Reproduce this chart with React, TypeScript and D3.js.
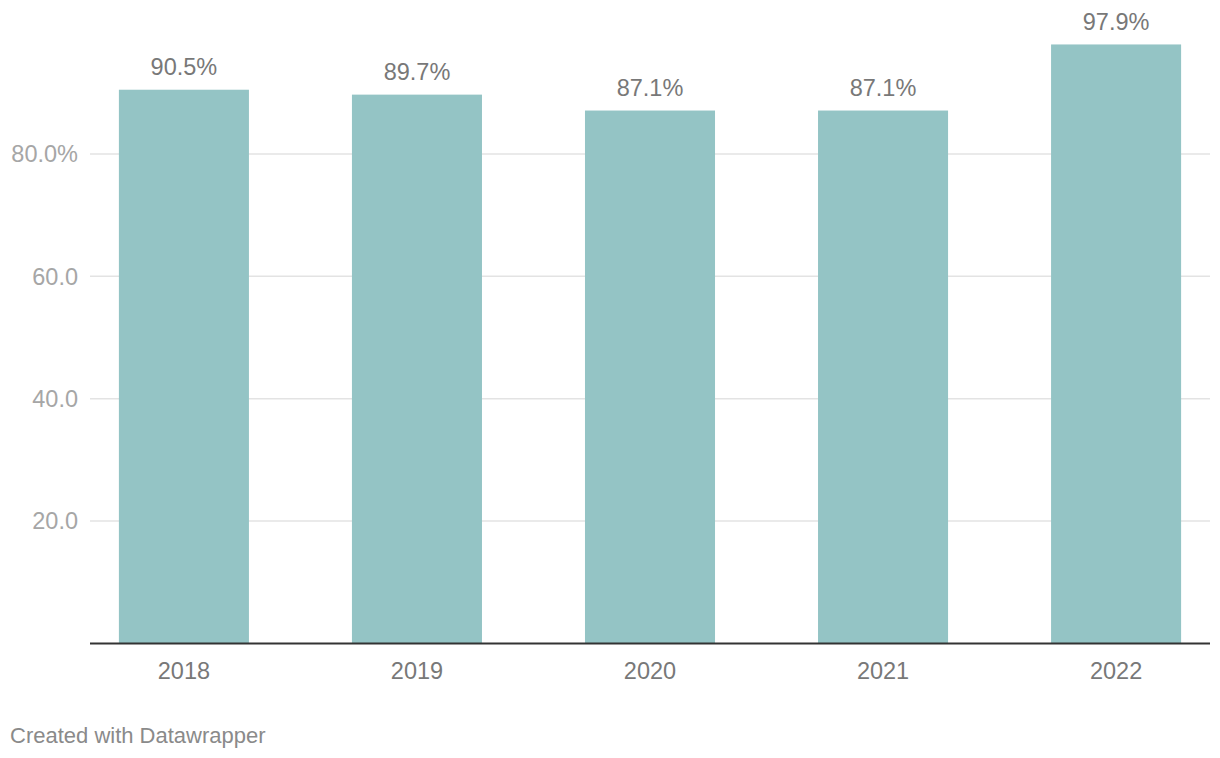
import React from "react";
import * as d3 from "d3";

const years = ["2018", "2019", "2020", "2021", "2022"];
const values = [90.5, 89.7, 87.1, 87.1, 97.9];
const yTicks = [20, 40, 60, 80];

const W = 1220;
const H = 758;
const left = 90;
const right = 1210;
const baseY = 643.5;
const FONT = "'Liberation Sans', Arial, Helvetica, sans-serif";

export default function App() {
  const x = d3
    .scaleBand<string>()
    .domain(years)
    .range([left, right])
    .paddingInner(0.442)
    .paddingOuter(0.124);
  const y = d3.scaleLinear().domain([0, 100]).range([baseY, baseY - 611.9]);

  return (
    <svg
      width={W}
      height={H}
      style={{ position: "absolute", left: 0, top: 0, background: "#fff" }}
      fontFamily={FONT}
    >
      {yTicks.map((t) => (
        <g key={t}>
          <line x1={left} x2={right} y1={y(t)} y2={y(t)} stroke="#e3e3e3" strokeWidth={1.5} />
          <text
            x={78}
            y={y(t)}
            dy="0.35em"
            textAnchor="end"
            fontSize={23.5}
            fill="#a6a6a6"
          >
            {t === 80 ? `${t.toFixed(1)}%` : t.toFixed(1)}
          </text>
        </g>
      ))}
      {values.map((v, i) => (
        <g key={years[i]}>
          <rect
            x={x(years[i])!}
            y={y(v)}
            width={x.bandwidth()}
            height={baseY - y(v)}
            fill="#94c4c5"
          />
          <text
            x={x(years[i])! + x.bandwidth() / 2}
            y={y(v) - 14.5}
            textAnchor="middle"
            fontSize={23.5}
            fill="#787878"
          >
            {v.toFixed(1)}%
          </text>
          <text
            x={x(years[i])! + x.bandwidth() / 2}
            y={678.5}
            textAnchor="middle"
            fontSize={23.5}
            fill="#787878"
          >
            {years[i]}
          </text>
        </g>
      ))}
      <line x1={left} x2={right} y1={baseY} y2={baseY} stroke="#333333" strokeWidth={2} />
      <text x={10} y={743} fontSize={22} fill="#8a8a8a">
        Created with Datawrapper
      </text>
    </svg>
  );
}
